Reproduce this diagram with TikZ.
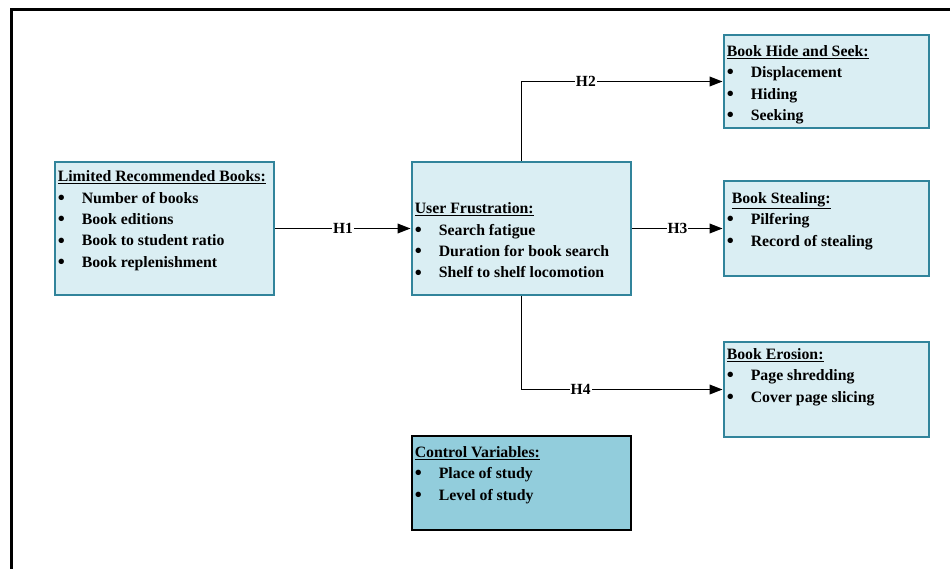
\documentclass[tikz,border=0pt]{standalone}
\usepackage{fontspec}
\setmainfont{Liberation Serif}
\usepackage{xcolor}
\usetikzlibrary{arrows.meta,positioning,calc}

\definecolor{boxfill}{HTML}{DAEEF3}
\definecolor{boxedge}{HTML}{31849B}
\definecolor{ctrlfill}{HTML}{92CDDC}

% one bullet line inside a box
\newcommand{\itm}[1]{\\\makebox[24pt][l]{\raisebox{-1.2pt}{\fontsize{20}{20}\selectfont\textbullet}}#1}

\begin{document}
\begin{tikzpicture}[
  x=1pt, y=-1pt,
  varbox/.style={draw=boxedge, line width=2.8pt, fill=boxfill, minimum width=219pt, minimum height=133pt, inner sep=0pt},
  ctrlbox/.style={varbox, draw=black, fill=ctrlfill, minimum height=94pt},
  outbox/.style={varbox, minimum width=205pt, minimum height=95pt},
  txt/.style={anchor=north west, inner sep=0pt, align=left, font=\bfseries\fontsize{15.8}{21.4}\selectfont},
  arr/.style={-{Triangle[length=13pt,width=9.5pt]}, line width=1.9pt},
  hlab/.style={fill=white, inner sep=1pt, font=\bfseries\fontsize{15.5}{16}\selectfont},
]
\useasboundingbox (0,0) rectangle (950,568);
% frame, cut by the page
\draw[line width=3pt] (11,600) -- (11,9) -- (1000,9);

\node[varbox] (lrb) at (164.5,228.5) {};
\node[varbox] (uf) at (521.5,228.5) {};
\node[outbox, minimum height=93pt] (bhs) at (826.5,81.5) {};
\node[outbox] (bs) at (826.5,228.5) {};
\node[outbox] (be) at (826.5,389.5) {};
\node[ctrlbox] (cv) at (521.5,483) {};

\node[txt] (lrbtxt) at ([shift={(4,10)}]lrb.north west)
  {\underline{Limited Recommended Books:}\itm{Number of books}\itm{Book editions}\itm{Book to student ratio}\itm{Book replenishment}};
\node[txt] (uftxt) at ([shift={(4,42)}]uf.north west)
  {\underline{User Frustration:}\itm{Search fatigue}\itm{Duration for book search}\itm{Shelf to shelf locomotion}};
\node[txt] (bhstxt) at ([shift={(4,11.5)}]bhs.north west)
  {\underline{Book Hide and Seek:}\itm{Displacement}\itm{Hiding}\itm{Seeking}};
\node[txt] (bstxt) at ([shift={(4,12.5)}]bs.north west)
  {\hspace{5pt}\underline{Book Stealing:}\itm{Pilfering}\itm{Record of stealing}};
\node[txt] (betxt) at ([shift={(4,7.5)}]be.north west)
  {\underline{Book Erosion:}\itm{Page shredding}\itm{Cover page slicing}};
\node[txt] (cvtxt) at ([shift={(4,11.5)}]cv.north west)
  {\underline{Control Variables:}\itm{Place of study}\itm{Level of study}};

\foreach \a/\b/\h in {lrb/uf/H1,uf/bs/H3}
  \draw[arr] (\a.east) -- node[hlab] {\h} (\b.west);
\draw[arr] (uf.north) |- node[hlab, pos=0.66] {H2} (bhs.west);
\draw[arr] (uf.south) |- node[hlab, pos=0.647] {H4} (be.west);
\end{tikzpicture}
\end{document}
